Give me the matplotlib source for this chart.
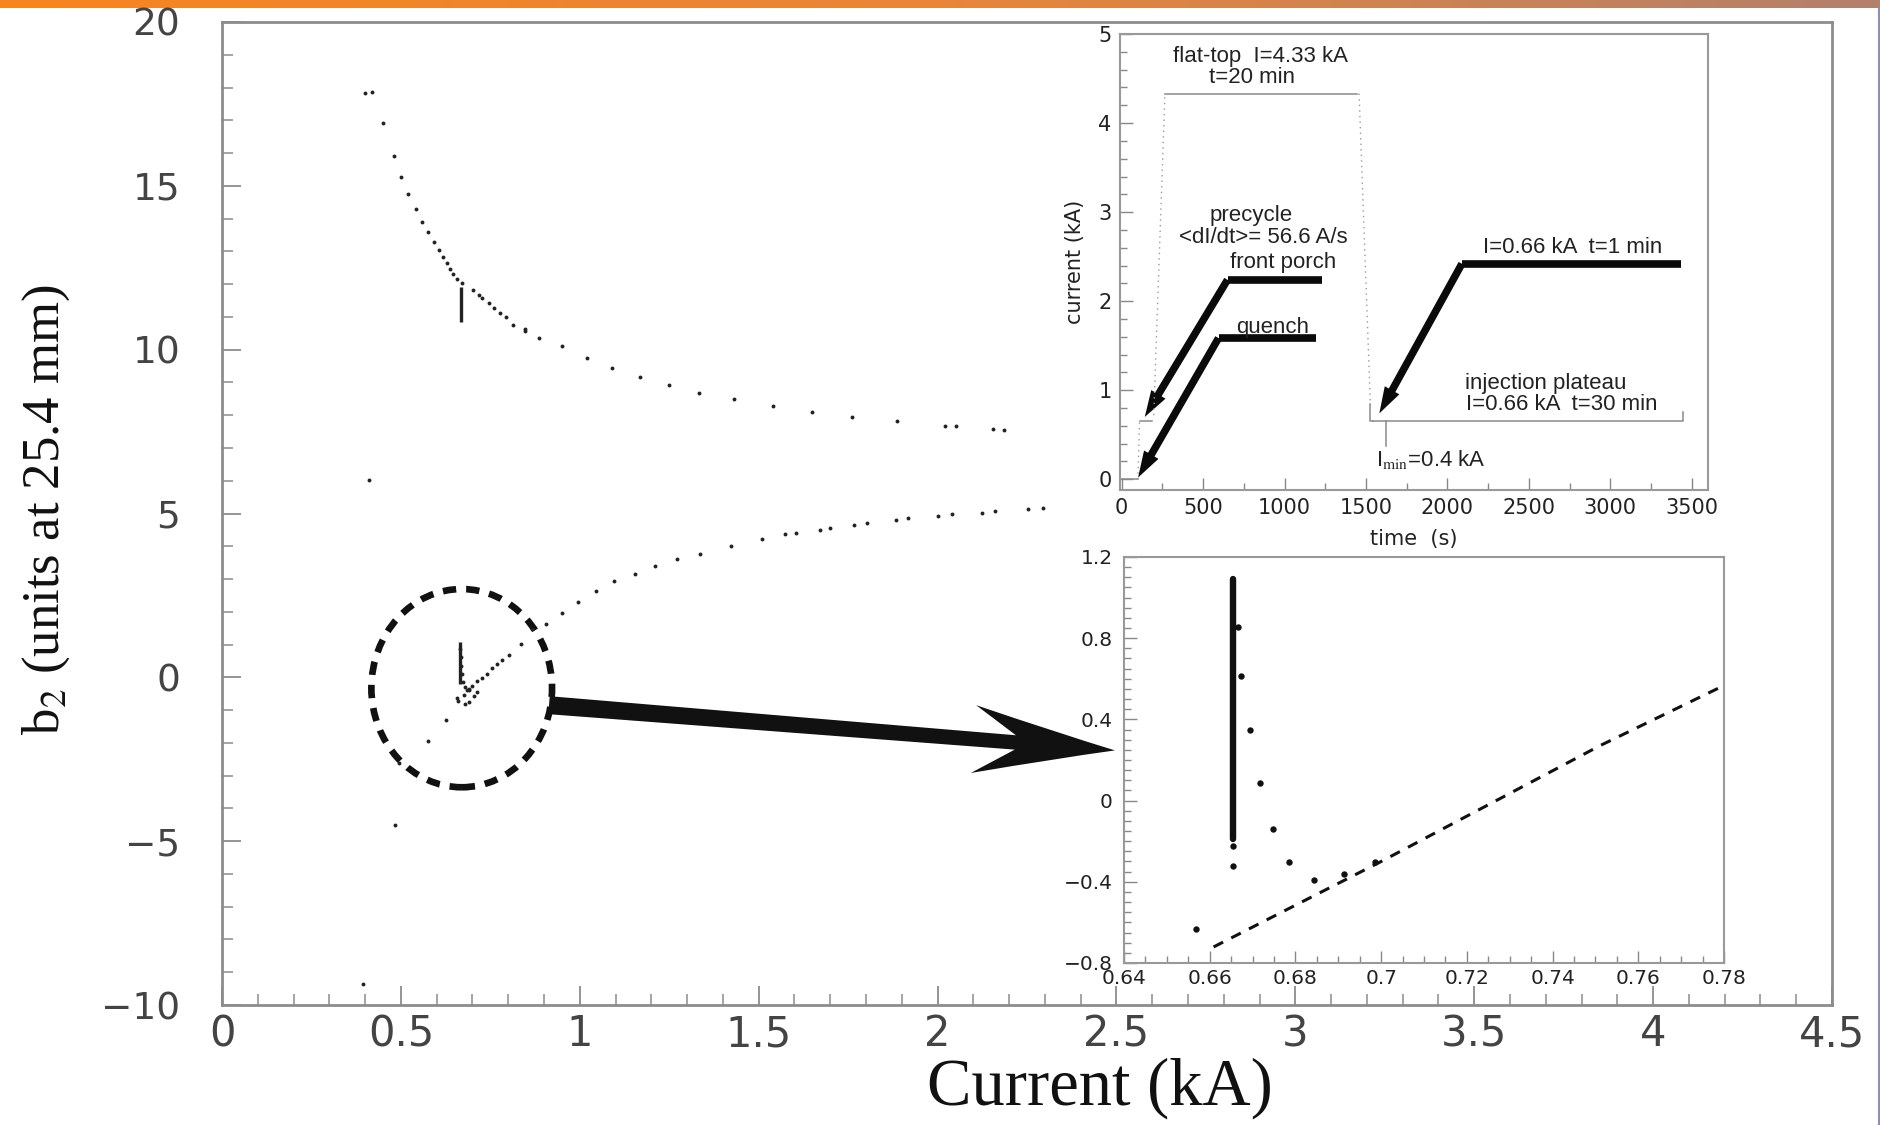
import numpy as np
import matplotlib
matplotlib.use("Agg")
import matplotlib.pyplot as plt
from matplotlib.patches import Ellipse, FancyArrowPatch, PathPatch
from matplotlib.path import Path
from matplotlib.transforms import IdentityTransform
from matplotlib.ticker import MultipleLocator
from matplotlib.colors import LinearSegmentedColormap

plt.rcParams['mathtext.fontset'] = 'stix'

# ---------------- data : main plot (b2 vs current) ----------------
upper_x = [0.401, 0.420, 0.449, 0.480, 0.501, 0.520, 0.542, 0.560, 0.575, 0.593,
           0.606, 0.618, 0.628, 0.638, 0.647, 0.656, 0.672, 0.701, 0.717, 0.727,
           0.746, 0.761, 0.777, 0.794, 0.814, 0.847, 0.847, 0.885, 0.950, 1.020,
           1.091, 1.167, 1.248, 1.332, 1.432, 1.539, 1.648, 1.762, 1.886, 2.020,
           2.051, 2.154, 2.185]
upper_y = [17.82, 17.87, 16.92, 15.90, 15.28, 14.75, 14.29, 13.89, 13.58, 13.28,
           13.05, 12.83, 12.64, 12.46, 12.31, 12.17, 12.03, 11.81, 11.66, 11.59,
           11.43, 11.28, 11.13, 10.99, 10.76, 10.64, 10.57, 10.37, 10.11, 9.76,
           9.44, 9.16, 8.92, 8.69, 8.48, 8.29, 8.11, 7.96, 7.83, 7.68,
           7.68, 7.58, 7.56]

lower_x = [0.395, 0.411, 0.483, 0.494, 0.577, 0.626, 0.6568, 0.6609, 0.677, 0.680,
           0.689, 0.689, 0.698, 0.703, 0.712, 0.714, 0.726, 0.740, 0.754, 0.770,
           0.782, 0.802, 0.836, 0.867, 0.906, 0.950, 0.994, 1.044, 1.095, 1.153,
           1.211, 1.272, 1.336, 1.424, 1.510, 1.574, 1.604, 1.671, 1.699, 1.767,
           1.803, 1.883, 1.918, 2.002, 2.040, 2.124, 2.161, 2.253, 2.295,
           0.6665, 0.6673, 0.6693, 0.6717, 0.6748, 0.6786, 0.6844, 0.6914]
lower_y = [-9.35, 6.03, -4.50, -2.60, -1.95, -1.30, -0.63, -0.72, -0.55, -0.82,
           -0.40, -0.75, -0.27, -0.58, -0.11, -0.45, -0.01, 0.11, 0.27, 0.40,
           0.54, 0.69, 1.01, 1.49, 1.64, 1.97, 2.30, 2.65, 2.94, 3.16,
           3.39, 3.62, 3.77, 4.01, 4.23, 4.37, 4.39, 4.49, 4.55, 4.66,
           4.71, 4.79, 4.86, 4.91, 4.97, 5.03, 5.08, 5.13, 5.17,
           0.855, 0.616, 0.346, 0.088, -0.140, -0.303, -0.389, -0.364]

# dense vertical stacks of points at the injection current
bar_x = [0.667, 0.6654]
bar_ymin = [10.84, -0.19]
bar_ymax = [11.91, 1.09]

main_xticks = [0, 0.5, 1, 1.5, 2, 2.5, 3, 3.5, 4, 4.5]
main_xticklabels = ["0", "0.5", "1", "1.5", "2", "2.5", "3", "3.5", "4", "4.5"]
main_yticks = [-10, -5, 0, 5, 10, 15, 20]
main_yticklabels = ["\u221210", "\u22125", "0", "5", "10", "15", "20"]

# ---------------- data : lower inset (zoom) ----------------
zoom_dot_x = [0.6654, 0.6654, 0.6665, 0.6673, 0.6693, 0.6717, 0.6748, 0.6786,
              0.6844, 0.6914, 0.6986, 0.6568]
zoom_dot_y = [-0.224, -0.321, 0.855, 0.616, 0.346, 0.088, -0.140, -0.303,
              -0.389, -0.364, -0.303, -0.632]
zoom_band_x = [0.6654]
zoom_band_ymin = [-0.19]
zoom_band_ymax = [1.09]
zoom_line_x = [0.6609, 0.7000, 0.7511, 0.7795]
zoom_line_y = [-0.721, -0.300, 0.271, 0.562]
zoom_xticks = [0.64, 0.66, 0.68, 0.70, 0.72, 0.74, 0.76, 0.78]
zoom_xticklabels = ["0.64", "0.66", "0.68", "0.7", "0.72", "0.74", "0.76", "0.78"]
zoom_yticks = [-0.8, -0.4, 0, 0.4, 0.8, 1.2]
zoom_yticklabels = ["\u22120.8", "\u22120.4", "0", "0.4", "0.8", "1.2"]

# ---------------- data : upper inset (current cycle) ----------------
cycle_solid_t = [[0, 100], [115, 184], [266, 1445], [1527, 1527, 1545],
                 [1545, 3445, 3445], [1623, 1623]]
cycle_solid_i = [[0, 0], [0.66, 0.66], [4.33, 4.33], [0.85, 0.66, 0.66],
                 [0.66, 0.66, 0.76], [0.66, 0.37]]
cycle_dotted_t = [[100, 110], [197, 266], [1458, 1527]]
cycle_dotted_i = [[0, 0.66], [0.72, 4.33], [4.33, 0.85]]
cycle_xticks = [0, 500, 1000, 1500, 2000, 2500, 3000, 3500]
cycle_yticks = [0, 1, 2, 3, 4, 5]

# pointer arrows: (end of horizontal, corner, tip)
arrow_end_t = [1231, 1192, 3432]
arrow_corner_t = [650, 595, 2089]
arrow_level_i = [2.24, 1.586, 2.42]
arrow_tip_t = [142, 101, 1582]
arrow_tip_i = [0.70, 0.02, 0.74]

label_texts = ["flat-top  I=4.33 kA", "t=20 min", "precycle", "<dI/dt>= 56.6 A/s",
               "front porch", "quench", "I=0.66 kA  t=1 min", "injection plateau",
               "I=0.66 kA  t=30 min", "I$_{\\rm min}$=0.4 kA"]
label_t = [850, 800, 792, 869, 992, 924, 2768, 2601, 2705, 1897]
label_i = [4.75, 4.51, 2.96, 2.72, 2.43, 1.71, 2.60, 1.08, 0.84, 0.22]

W, H = 1880, 1125
fig = plt.figure(figsize=(W / 100, H / 100), dpi=100)
fig.patch.set_facecolor("white")

# top gradient bar
axbar = fig.add_axes([0, 1 - 8 / H, 1, 8 / H])
cmap = LinearSegmentedColormap.from_list("bar", ["#F7851F", "#E8863A", "#B3806C"])
axbar.imshow(np.linspace(0, 1, 256)[None, :], aspect="auto", cmap=cmap,
             extent=[0, 1, 0, 1])
axbar.axis("off")
fig.add_artist(plt.Line2D([1 - 1.5 / W, 1 - 1.5 / W], [0, 1 - 8 / H],
                          transform=fig.transFigure, color="#8a8fb5", lw=1.5))

spine_col = "#8c8c8c"

# ---------------- main axes ----------------
ax = fig.add_axes([222 / W, 1 - 1005 / H, 1610 / W, 983 / H])
ax.set_xlim(0, 4.5)
ax.set_ylim(-10, 20)
for s in ax.spines.values():
    s.set_color(spine_col)
    s.set_linewidth(2)
ax.set_xticks(main_xticks)
ax.set_xticklabels(main_xticklabels, family="DejaVu Sans", fontsize=30, color="#444444")
ax.set_yticks(main_yticks)
ax.set_yticklabels(main_yticklabels, family="DejaVu Sans", fontsize=27, color="#444444")
ax.xaxis.set_minor_locator(MultipleLocator(0.1))
ax.yaxis.set_minor_locator(MultipleLocator(1))
ax.tick_params(axis="both", which="major", direction="in", length=14, width=1.3,
               color=spine_col, top=False, right=False)
ax.tick_params(axis="both", which="minor", direction="in", length=8, width=1.1,
               color=spine_col, top=False, right=False)
ax.tick_params(axis="y", which="major", pad=30)
ax.tick_params(axis="x", which="major", pad=6)

ax.plot(upper_x, upper_y, "o", ms=2.8, color="#222222", mew=0)
ax.plot(lower_x, lower_y, "o", ms=2.8, color="#222222", mew=0)
ax.vlines(bar_x, bar_ymin, bar_ymax, color="#222222", lw=2.4)

ell = Ellipse((0.67, -0.33), 0.505, 6.05, fill=False, ec="#111111", lw=4.8,
              ls=(0, (2.0, 1.5)))
ax.add_patch(ell)

fig.text(1100 / W, 1 - 1088 / H, "Current (kA)", family="Liberation Serif",
         fontsize=48, ha="center", va="center", color="#111111")
fig.text(46 / W, 1 - 510 / H, "b$_2$ (units at 25.4 mm)", family="Liberation Serif",
         fontsize=38, rotation=90, ha="center", va="center", color="#111111")

# big pointer arrow (decoration)
p0 = ax.transData.transform((0.914, -0.85))
p1 = ax.transData.transform((2.496, -2.23))
u = (p1 - p0) / np.hypot(*(p1 - p0))
n = np.array([-u[1], u[0]])
hw_s = 9.0
notch = p1 - 100 * u
b1 = p1 - 142 * u + 34 * n
b2 = p1 - 142 * u - 34 * n
c1 = p1 - 55 * u + 12 * n
c2 = p1 - 55 * u - 12 * n
verts = [p0 + hw_s * n, notch + 0.8 * hw_s * n, b1, c1, p1, c2, b2,
         notch - 0.8 * hw_s * n, p0 - hw_s * n, p0 + hw_s * n]
codes = [Path.MOVETO, Path.LINETO, Path.LINETO, Path.CURVE3, Path.CURVE3,
         Path.CURVE3, Path.CURVE3, Path.LINETO, Path.LINETO, Path.CLOSEPOLY]
fig.add_artist(PathPatch(Path(verts, codes), transform=IdentityTransform(),
                         fc="#111111", ec="none", zorder=5))

# ---------------- upper inset ----------------
ax1 = fig.add_axes([1120 / W, 1 - 490 / H, 588 / W, 456 / H])
ax1.set_xlim(-10, 3600)
ax1.set_ylim(-0.12, 5)
for s in ax1.spines.values():
    s.set_color("#999999")
    s.set_linewidth(1.5)
ax1.set_xticks(cycle_xticks)
ax1.set_xticklabels([str(v) for v in cycle_xticks], family="DejaVu Sans",
                    fontsize=15, color="#222222")
ax1.set_yticks(cycle_yticks)
ax1.set_yticklabels([str(v) for v in cycle_yticks], family="DejaVu Sans",
                    fontsize=15, color="#222222")
ax1.xaxis.set_minor_locator(MultipleLocator(250))
ax1.yaxis.set_minor_locator(MultipleLocator(0.2))
ax1.tick_params(which="major", direction="in", length=9, width=1, color="#888888",
                top=False, right=False, pad=6)
ax1.tick_params(which="minor", direction="in", length=5, width=1, color="#888888",
                top=False, right=False)
ax1.set_xlabel("time  (s)", family="DejaVu Sans", fontsize=15, color="#222222",
               labelpad=8)
ax1.set_ylabel("current (kA)", family="DejaVu Sans", fontsize=15, color="#222222",
               labelpad=10)

for t, i in zip(cycle_solid_t, cycle_solid_i):
    ax1.plot(t, i, color="#8a8a8a", lw=1.1)
for t, i in zip(cycle_dotted_t, cycle_dotted_i):
    ax1.plot(t, i, color="#9a9a9a", lw=1.0, ls=(0, (1, 3)))

for te, tc, lv, tt, ti in zip(arrow_end_t, arrow_corner_t, arrow_level_i,
                              arrow_tip_t, arrow_tip_i):
    ax1.plot([te, tc], [lv, lv], color="#0a0a0a", lw=5.5, solid_capstyle="butt")
    ax1.add_patch(FancyArrowPatch((tc, lv), (tt, ti),
                                  arrowstyle="simple,head_length=19,head_width=12,tail_width=5.4",
                                  mutation_scale=1, fc="#0a0a0a", ec="none",
                                  shrinkA=0, shrinkB=0))

for s, t, i in zip(label_texts, label_t, label_i):
    ax1.text(t, i, s, family="Liberation Sans", fontsize=16, ha="center",
             va="center", color="#222222")

# ---------------- lower inset ----------------
ax2 = fig.add_axes([1124 / W, 1 - 963 / H, 600 / W, 406 / H])
ax2.set_xlim(0.64, 0.78)
ax2.set_ylim(-0.8, 1.2)
for s in ax2.spines.values():
    s.set_color("#999999")
    s.set_linewidth(1.5)
ax2.set_xticks(zoom_xticks)
ax2.set_xticklabels(zoom_xticklabels, family="DejaVu Sans", fontsize=14.5,
                    color="#222222")
ax2.set_yticks(zoom_yticks)
ax2.set_yticklabels(zoom_yticklabels, family="DejaVu Sans", fontsize=14.5,
                    color="#222222")
ax2.xaxis.set_minor_locator(MultipleLocator(0.005))
ax2.yaxis.set_minor_locator(MultipleLocator(0.05))
ax2.tick_params(which="major", direction="in", length=9, width=1, color="#888888",
                top=False, right=False)
ax2.tick_params(axis="x", which="major", pad=4)
ax2.tick_params(axis="y", which="major", pad=8)
ax2.tick_params(which="minor", direction="in", length=5, width=1, color="#888888",
                top=False, right=False)

ax2.vlines(zoom_band_x, zoom_band_ymin, zoom_band_ymax, color="#111111", lw=4.6,
           capstyle="round")
ax2.plot(zoom_dot_x, zoom_dot_y, "o", ms=4.6, color="#111111", mew=0)
ax2.plot(zoom_line_x, zoom_line_y, color="#111111", lw=2.2, ls=(0, (3.5, 3.0)))

fig.savefig("out.png", dpi=100, facecolor="white")
